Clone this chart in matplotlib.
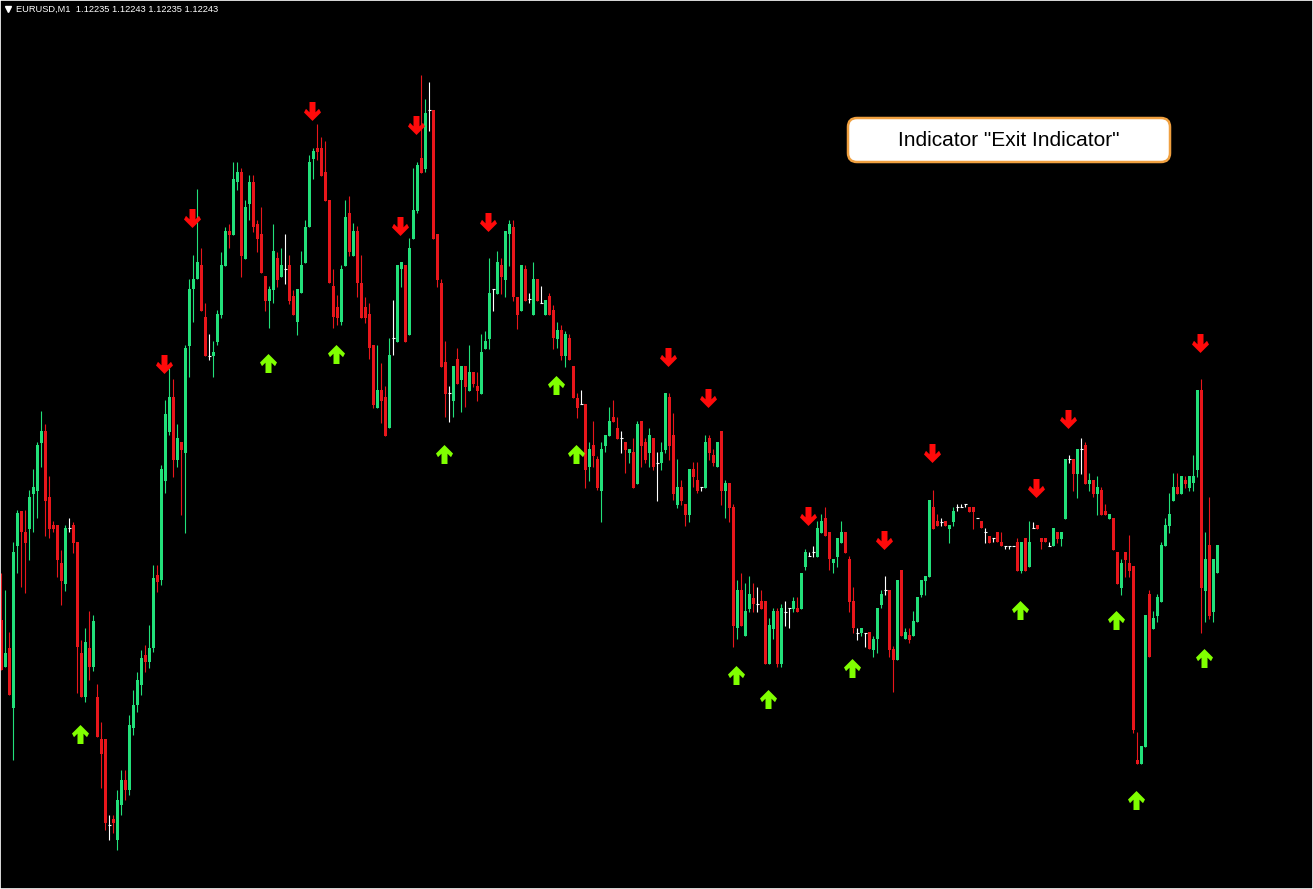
"""
EURUSD M1 candlestick chart with "Exit Indicator" arrows
"""

import numpy as np
import matplotlib.pyplot as plt
from matplotlib.path import Path
from matplotlib.patches import FancyBboxPatch
from matplotlib.lines import Line2D
from matplotlib.transforms import IdentityTransform

# prices are kept in points (1e-5) above BASE
BASE = 1.11900
PT = 0.00001

opens = [
    268, 221, 240, 180, 342, 377, 356, 359, 394, 397,
    445, 457, 391, 363, 363, 325, 304, 360, 363, 346,
    235, 191, 240, 221, 191, 149, 149, 63, 69, 48,
    83, 108, 98, 160, 183, 203, 233, 226, 240, 313,
    308, 407, 456, 491, 428, 446, 435, 542, 599, 609,
    623, 571, 532, 532, 546, 573, 622, 657, 653, 706,
    716, 629, 684, 706, 664, 654, 612, 587, 598, 630,
    611, 619, 623, 592, 566, 595, 625, 661, 729, 740,
    740, 716, 688, 602, 581, 566, 622, 675, 632, 657,
    605, 581, 574, 543, 480, 498, 491, 460, 550, 546,
    619, 623, 553, 649, 677, 730, 719, 778, 778, 654,
    605, 526, 495, 487, 529, 508, 522, 497, 516, 502,
    494, 539, 549, 599, 594, 623, 608, 654, 661, 591,
    577, 619, 589, 573, 609, 585, 573, 592, 578, 549,
    558, 532, 550, 522, 490, 484, 484, 421, 443, 429,
    397, 442, 452, 471, 460, 450, 446, 435, 436, 404,
    467, 446, 435, 450, 425, 425, 438, 491, 453, 383,
    401, 384, 373, 419, 408, 401, 400, 450, 433, 421,
    457, 397, 405, 381, 260, 298, 252, 279, 290, 284,
    287, 287, 224, 259, 277, 224, 276, 280, 279, 280,
    279, 321, 332, 336, 331, 355, 370, 356, 325, 331,
    345, 356, 329, 287, 255, 255, 255, 256, 238, 249,
    283, 298, 298, 239, 228, 318, 249, 253, 252, 266,
    293, 307, 311, 381, 367, 366, 367, 359, 366, 381,
    381, 384, 381, 381, 370, 367, 356, 352, 350, 356,
    346, 342, 342, 342, 346, 317, 350, 321, 360, 363,
    350, 350, 342, 342, 356, 349, 369, 429, 429, 414,
    439, 443, 404, 408, 394, 398, 377, 369, 370, 336,
    300, 336, 325, 322, 128, 124, 141, 294, 259, 272,
    286, 342, 362, 387, 401, 394, 408, 400, 405, 418,
    498, 297, 343, 276, 315,
]
closes = [
    218, 235, 193, 336, 375, 356, 345, 391, 401, 443,
    457, 387, 359, 359, 328, 307, 360, 360, 345, 241,
    191, 246, 221, 267, 151, 134, 65, 63, 65, 88,
    108, 98, 163, 183, 208, 230, 226, 240, 310, 306,
    419, 474, 491, 428, 450, 438, 540, 599, 609, 626,
    577, 532, 532, 536, 574, 623, 657, 653, 709, 716,
    632, 681, 706, 661, 649, 615, 587, 599, 637, 608,
    623, 619, 587, 573, 599, 623, 661, 726, 737, 736,
    712, 687, 605, 571, 570, 619, 671, 636, 657, 605,
    570, 570, 540, 483, 498, 487, 452, 533, 550, 623,
    626, 546, 640, 678, 723, 715, 775, 778, 649, 608,
    521, 494, 495, 522, 504, 522, 501, 516, 504, 497,
    536, 547, 595, 599, 626, 611, 657, 664, 591, 573,
    623, 587, 589, 609, 587, 585, 588, 573, 550, 558,
    532, 554, 528, 490, 480, 484, 418, 439, 432, 400,
    439, 453, 467, 466, 449, 450, 438, 439, 400, 464,
    442, 428, 453, 421, 425, 436, 495, 442, 394, 401,
    387, 373, 419, 411, 397, 401, 446, 435, 425, 446,
    397, 405, 380, 262, 298, 262, 277, 294, 284, 284,
    279, 224, 263, 277, 224, 280, 276, 280, 287, 276,
    315, 336, 332, 336, 360, 367, 352, 329, 329, 350,
    356, 335, 286, 260, 255, 260, 255, 239, 249, 280,
    294, 298, 238, 228, 308, 252, 256, 248, 267, 291,
    308, 312, 388, 359, 362, 366, 362, 363, 377, 381,
    381, 384, 376, 376, 370, 360, 356, 345, 350, 346,
    342, 342, 342, 342, 317, 346, 317, 346, 360, 359,
    346, 346, 342, 360, 349, 356, 429, 429, 414, 439,
    439, 404, 408, 394, 401, 373, 373, 374, 338, 304,
    325, 328, 317, 158, 124, 142, 273, 231, 270, 291,
    343, 363, 374, 401, 394, 412, 404, 412, 412, 498,
    300, 329, 272, 329, 343,
]
highs = [
    315, 298, 256, 346, 378, 377, 378, 398, 419, 446,
    477, 464, 412, 367, 363, 338, 363, 370, 366, 346,
    248, 260, 277, 273, 204, 166, 149, 73, 73, 98,
    118, 118, 173, 198, 216, 238, 243, 263, 323, 323,
    423, 488, 520, 509, 464, 446, 543, 609, 633, 699,
    640, 585, 554, 547, 578, 636, 661, 664, 726, 726,
    720, 688, 713, 713, 668, 681, 612, 602, 664, 636,
    640, 654, 633, 598, 599, 637, 668, 733, 740, 764,
    751, 747, 688, 619, 593, 623, 688, 692, 665, 662,
    633, 591, 585, 543, 543, 525, 502, 550, 588, 623,
    626, 623, 650, 720, 726, 813, 789, 806, 778, 654,
    609, 547, 502, 522, 540, 522, 522, 543, 516, 516,
    554, 557, 630, 599, 637, 630, 657, 668, 668, 591,
    623, 623, 595, 626, 609, 602, 588, 595, 583, 566,
    563, 557, 554, 522, 495, 498, 484, 446, 467, 432,
    446, 453, 481, 488, 471, 457, 446, 439, 450, 467,
    467, 450, 460, 450, 436, 446, 495, 495, 475, 429,
    408, 384, 419, 426, 426, 401, 453, 453, 439, 446,
    457, 408, 405, 384, 308, 315, 305, 312, 305, 301,
    298, 287, 270, 280, 280, 284, 287, 280, 291, 291,
    315, 339, 336, 342, 367, 374, 381, 356, 329, 350,
    367, 356, 332, 301, 260, 260, 255, 256, 252, 280,
    298, 312, 298, 242, 308, 318, 260, 260, 277, 291,
    308, 312, 388, 398, 374, 370, 367, 363, 381, 384,
    384, 384, 381, 381, 370, 367, 360, 352, 350, 356,
    356, 342, 342, 342, 350, 346, 350, 367, 366, 363,
    350, 350, 346, 360, 356, 356, 429, 433, 429, 439,
    450, 446, 415, 408, 412, 401, 384, 374, 370, 336,
    329, 336, 353, 322, 156, 142, 273, 298, 277, 294,
    346, 370, 395, 415, 415, 412, 412, 412, 433, 498,
    509, 356, 391, 329, 343,
]
lows = [
    218, 221, 193, 128, 315, 301, 295, 328, 356, 370,
    421, 352, 350, 356, 311, 283, 297, 356, 335, 195,
    191, 186, 208, 217, 151, 100, 58, 48, 55, 38,
    73, 88, 93, 153, 176, 193, 216, 220, 236, 296,
    303, 395, 453, 411, 421, 373, 355, 511, 566, 609,
    577, 532, 528, 511, 543, 570, 622, 640, 653, 698,
    611, 629, 668, 656, 636, 615, 577, 560, 585, 601,
    611, 604, 584, 573, 553, 595, 625, 661, 709, 728,
    712, 687, 605, 560, 563, 563, 622, 632, 632, 591,
    570, 565, 529, 480, 480, 465, 452, 460, 533, 546,
    601, 546, 553, 649, 675, 715, 716, 757, 649, 601,
    521, 471, 466, 471, 504, 476, 481, 497, 501, 487,
    494, 539, 539, 577, 594, 594, 591, 622, 587, 559,
    577, 587, 585, 573, 587, 585, 573, 573, 539, 540,
    528, 521, 528, 490, 470, 484, 400, 407, 421, 398,
    366, 436, 452, 466, 449, 435, 415, 425, 400, 404,
    421, 425, 421, 418, 387, 418, 435, 428, 388, 380,
    383, 362, 366, 401, 395, 397, 400, 428, 422, 421,
    383, 370, 366, 241, 249, 262, 252, 276, 276, 276,
    279, 224, 224, 249, 221, 221, 262, 260, 276, 276,
    279, 318, 332, 331, 331, 355, 352, 318, 315, 321,
    345, 335, 276, 255, 248, 252, 241, 239, 231, 235,
    280, 293, 231, 196, 228, 252, 249, 245, 252, 266,
    291, 293, 311, 359, 362, 362, 362, 345, 362, 377,
    381, 381, 376, 359, 370, 360, 345, 345, 346, 346,
    342, 339, 339, 342, 317, 315, 317, 321, 360, 359,
    339, 346, 342, 342, 345, 342, 369, 425, 397, 390,
    414, 404, 397, 391, 373, 373, 373, 369, 338, 304,
    293, 311, 311, 155, 124, 124, 141, 231, 259, 266,
    286, 342, 355, 387, 394, 394, 400, 397, 397, 411,
    255, 266, 269, 266, 315,
]

# indicator signals: bar index and price level (points) of the arrow
down_idx = [41, 48, 78, 100, 104, 122, 167, 177, 202, 221, 233, 259, 267, 300]
down_lvl = [524, 670, 777, 662, 763, 666, 531, 490, 372, 348, 435, 400, 469, 545]
up_idx = [20, 67, 84, 111, 139, 144, 184, 192, 213, 255, 279, 284, 301]
up_lvl = [154, 525, 534, 434, 503, 434, 213, 189, 220, 278, 268, 88, 230]

symbol_text = "EURUSD,M1  1.12235 1.12243 1.12235 1.12243"
box_text = 'Indicator "Exit Indicator"'

BULL = "#22E07A"
BEAR = "#E8161B"
UP_ARROW = "#80FF00"
DOWN_ARROW = "#FF0A0A"


def to_price(points):
    return BASE + np.asarray(points, dtype=float) * PT


assert len(opens) == len(closes) == len(highs) == len(lows)

o_pt = np.array(opens)
c_pt = np.array(closes)
o, c = to_price(o_pt), to_price(c_pt)
h = np.maximum(to_price(highs), np.maximum(o, c))
l = np.minimum(to_price(lows), np.minimum(o, c))
x = np.arange(len(opens))

fig = plt.figure(figsize=(13.13, 8.89), dpi=100, facecolor="black")
ax = fig.add_axes([0, 0, 1, 1], facecolor="black")

up = c_pt > o_pt
dn = c_pt < o_pt
flat = c_pt == o_pt

ax.vlines(x[up], l[up], h[up], color=BULL, linewidth=0.8)
ax.bar(x[up], c[up] - o[up], bottom=o[up], width=0.75, color=BULL, linewidth=0)
ax.vlines(x[dn], l[dn], h[dn], color=BEAR, linewidth=0.8)
ax.bar(x[dn], c[dn] - o[dn], bottom=o[dn], width=0.75, color=BEAR, linewidth=0)
ax.vlines(x[flat], l[flat], h[flat], color="white", linewidth=0.8)
ax.hlines(c[flat], x[flat] - 0.4, x[flat] + 0.4, color="white", linewidth=0.8)

# block arrow glyph (pointing up), mirrored for the sell signals
arrow_up = [(0, 9.5), (8.5, 1), (6.5, -2.7), (3, 0.8), (3, -9.5),
            (-3, -9.5), (-3, 0.8), (-6.5, -2.7), (-8.5, 1), (0, 9.5)]
arrow_dn = [(px, -py) for px, py in arrow_up]
up_marker = Path(arrow_up, closed=True)
dn_marker = Path(arrow_dn, closed=True)

ax.scatter(np.array(up_idx) - 0.3, to_price(up_lvl), marker=up_marker,
           s=187, color=UP_ARROW, linewidths=0, zorder=5)
ax.scatter(np.array(down_idx) - 0.3, to_price(down_lvl), marker=dn_marker,
           s=187, color=DOWN_ARROW, linewidths=0, zorder=5)

ax.set_xlim(-0.325, 327.925)
ax.set_ylim(to_price(-1), to_price(888))
ax.set_xticks([])
ax.set_yticks([])
for sp in ax.spines.values():
    sp.set_color("white")
    sp.set_linewidth(1.2)

# caption box (pixel coordinates)
box = FancyBboxPatch((848, 727), 322, 44, boxstyle="round,pad=0,rounding_size=9",
                     facecolor="white", edgecolor="#F0A040", linewidth=1.8,
                     transform=IdentityTransform())
fig.add_artist(box)
fig.text(1009 / 1313, 749 / 889, box_text, ha="center", va="center",
         fontsize=15, family="Liberation Sans", color="black")

fig.add_artist(Line2D([7.5 / 1313], [1 - 9 / 889], marker="v", markersize=4.5,
                      color="white", linewidth=0, transform=fig.transFigure))
fig.text(16 / 1313, 1 - 9.5 / 889, symbol_text, ha="left", va="center",
         fontsize=6.7, family="Liberation Sans", color="white")

fig.savefig("out.png", dpi=100, facecolor="black")
